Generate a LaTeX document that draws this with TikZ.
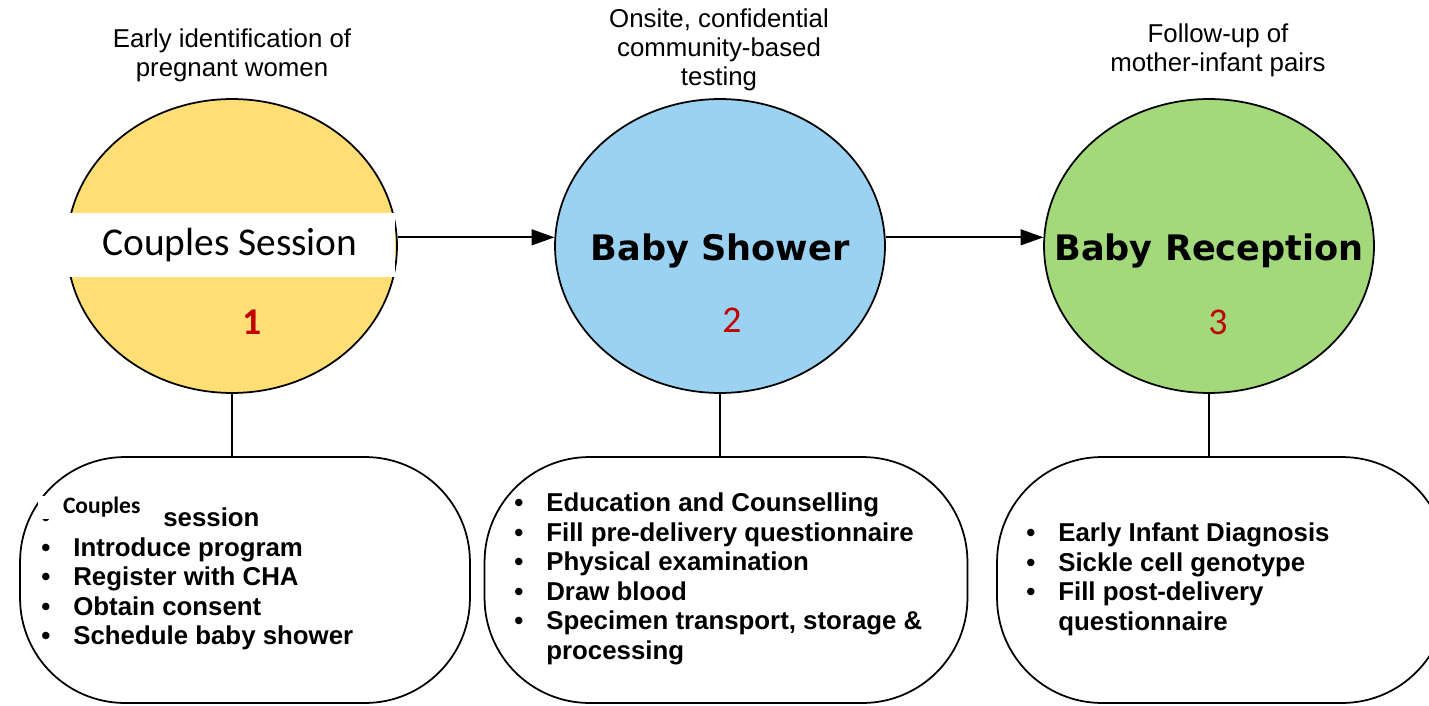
\documentclass[tikz,border=0pt]{standalone}
\usepackage{fontspec}
\setmainfont{Liberation Sans}
\newfontfamily\calibri{Carlito}
\newfontfamily\phasefont{DejaVu Sans}
\usetikzlibrary{positioning,shapes.geometric,arrows.meta}

\definecolor{phaseyellow}{HTML}{FEDE75}
\definecolor{phaseblue}{HTML}{9BD2F1}
\definecolor{phasegreen}{HTML}{A3D97A}
\definecolor{stepred}{HTML}{C00000}

\tikzset{
  phase/.style={ellipse, draw, line width=1pt, minimum width=6.6cm, minimum height=5.88cm, inner sep=0pt},
  phasename/.style={inner sep=0pt, text depth=0pt, font=\phasefont\bfseries\fontsize{20}{24}\selectfont},
  task/.style={draw, line width=1pt, rounded corners=2.1cm, minimum height=4.92cm},
  tasklist/.style={anchor=north west, inner sep=0pt, align=left, font=\bfseries\fontsize{14.7}{16.75}\selectfont},
  goal/.style={align=center, inner sep=0pt, font=\fontsize{14.7}{16.44}\selectfont},
  stepnum/.style={text=stepred, inner sep=0pt, font=\calibri\fontsize{21.5}{24}\selectfont},
  link/.style={line width=1pt}
}
\newcommand{\blt}{\makebox[0.64cm][l]{•}}

\begin{document}
\begin{tikzpicture}[x=0.02cm,y=-0.02cm]
\useasboundingbox (0,0) rectangle (1429,706);
% the three phases
\node[phase, fill=phaseyellow] (e1) at (232,246) {};
\node[phase, fill=phaseblue] (e2) at (720,246) {};
\node[phase, fill=phasegreen] (e3) at (1209,246) {};
\node[fill=white, minimum width=6.6cm, minimum height=1.28cm, inner sep=0pt, font=\calibri\fontsize{22.4}{26}\selectfont] (cs) at (230,245) {Couples Session};
\node[phasename] (s2) at (720,247) {Baby Shower};
\node[phasename] (s3) at (1209,247) {Baby Reception};
\node[stepnum] (n1) at (252,322) {\bfseries 1};
\node[stepnum] (n2) at (732,320) {2};
\node[stepnum] (n3) at (1218,322) {3};

% goals above
\node[goal] (g1) at (232,55) {Early identification of\\pregnant women};
\node[goal] (g2) at (719,50) {Onsite, confidential\\community-based\\testing};
\node[goal] (g3) at (1218,50) {Follow-up of\\mother-infant pairs};

\draw[link,-{Triangle[length=13pt,width=9pt]}] (e1.3) -- (e2.177);
\draw[link,-{Triangle[length=13pt,width=9pt]}] (e2.3) -- (e3.177);

% activities below
\node[task, minimum width=9cm] (b1) at (245,580) {};
\node[task, minimum width=9.66cm] (b2) at (726,580) {};
\node[task, minimum width=9cm] (b3) at (1222,580) {};
\draw[link] (e1.south) -- (e1.south |- b1.north);
\draw[link] (e2.south) -- (e2.south |- b2.north);
\draw[link] (e3.south) -- (e3.south |- b3.north);

\node[tasklist] (l1) at (41,506) {\strut\blt\hspace*{1.8cm}session\\ \blt Introduce program\\ \blt Register with CHA\\ \blt Obtain consent\\ \blt Schedule baby shower};
\node[fill=white, inner sep=0pt, minimum height=0.46cm, text width=2.24cm, align=left, font=\calibri\bfseries\fontsize{13.4}{16}\selectfont] (cpl) at (94,507) {\hspace*{0.5cm}Couples};
\node[tasklist] (l2) at (514,491) {\strut\blt Education and Counselling\\ \blt Fill pre-delivery questionnaire\\ \blt Physical examination\\ \blt Draw blood\\ \blt Specimen transport, storage \&\\ \hspace*{0.64cm}processing};
\node[tasklist] (l3) at (1026,521) {\strut\blt Early Infant Diagnosis\\ \blt Sickle cell genotype\\ \blt Fill post-delivery\\ \hspace*{0.64cm}questionnaire};
\end{tikzpicture}
\end{document}
